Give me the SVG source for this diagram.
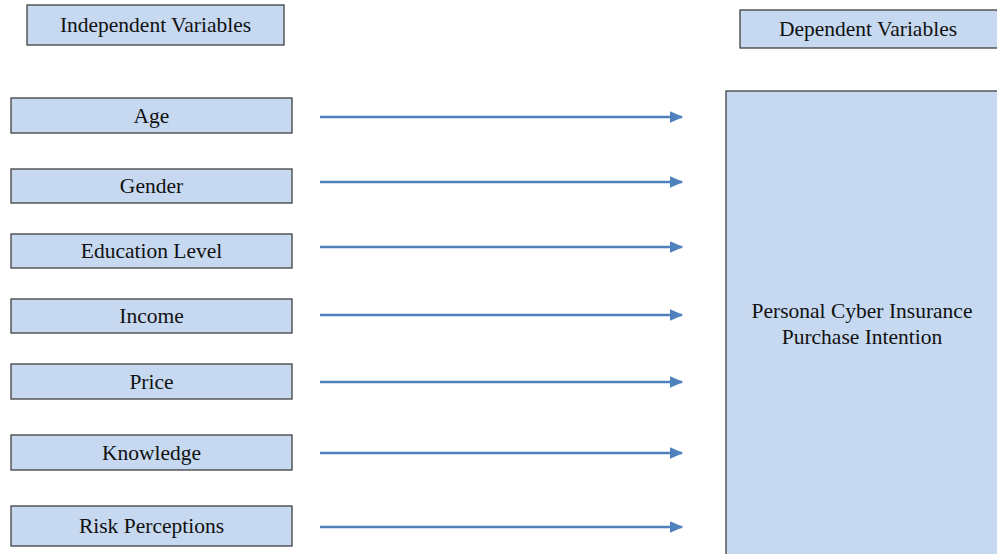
<svg xmlns="http://www.w3.org/2000/svg" width="997" height="554" viewBox="0 0 997 554">
<defs>
<style>
.box{fill:#c6d9f0;stroke:#3f3f3f;stroke-width:1.3}
.t{font-family:"Liberation Serif","Times New Roman","DejaVu Serif",serif;font-size:21.5px;fill:#111;text-anchor:middle}
.arr{stroke:#4f81bd;stroke-width:2.5;fill:none;marker-end:url(#ah)}
</style>
<marker id="ah" markerWidth="6" markerHeight="6" refX="5" refY="3" orient="auto" markerUnits="strokeWidth">
<path d="M0,0.6 L5.5,3 L0,5.4 Z" fill="#4f81bd"/>
</marker>
</defs>
<rect width="997" height="554" fill="#fff"/>
<g id="independent-header"><rect class="box" x="27" y="5" width="257" height="40"/><text class="t" x="155.5" y="32">Independent Variables</text></g>
<g id="dependent-header"><rect class="box" x="740" y="10" width="262" height="38"/><text class="t" x="868" y="36">Dependent Variables</text></g>
<g id="age"><rect class="box" x="11" y="98" width="281" height="35"/><text class="t" x="151.5" y="123">Age</text></g>
<g id="gender"><rect class="box" x="11" y="169" width="281" height="34"/><text class="t" x="151.5" y="193">Gender</text></g>
<g id="education"><rect class="box" x="11" y="234" width="281" height="34"/><text class="t" x="151.5" y="258">Education Level</text></g>
<g id="income"><rect class="box" x="11" y="299" width="281" height="34"/><text class="t" x="151.5" y="323">Income</text></g>
<g id="price"><rect class="box" x="11" y="364" width="281" height="35"/><text class="t" x="151.5" y="389">Price</text></g>
<g id="knowledge"><rect class="box" x="11" y="435" width="281" height="35"/><text class="t" x="151.5" y="460">Knowledge</text></g>
<g id="risk"><rect class="box" x="11" y="506" width="281" height="40"/><text class="t" x="151.5" y="533">Risk Perceptions</text></g>
<g id="intention"><rect class="box" x="726" y="91" width="280" height="470"/><text class="t" x="862" y="318">Personal Cyber Insurance</text><text class="t" x="862" y="344">Purchase Intention</text></g>
<g id="connectors">
<line class="arr" x1="320" y1="117" x2="682" y2="117"/>
<line class="arr" x1="320" y1="182" x2="682" y2="182"/>
<line class="arr" x1="320" y1="247" x2="682" y2="247"/>
<line class="arr" x1="320" y1="315" x2="682" y2="315"/>
<line class="arr" x1="320" y1="382" x2="682" y2="382"/>
<line class="arr" x1="320" y1="453" x2="682" y2="453"/>
<line class="arr" x1="320" y1="527" x2="682" y2="527"/>
</g>
</svg>
